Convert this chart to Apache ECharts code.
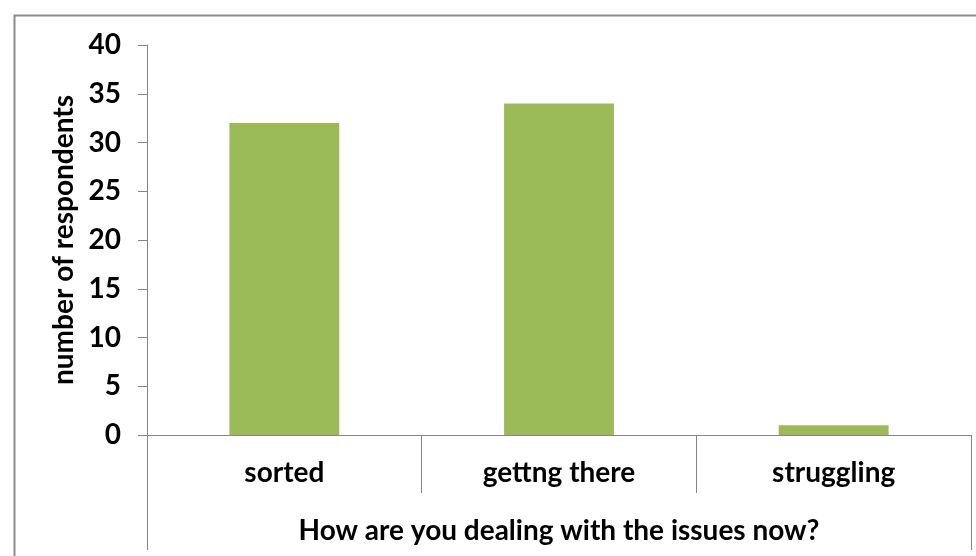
<!DOCTYPE html>
<html>
<head>
<meta charset="utf-8">
<script src="https://cdn.jsdelivr.net/npm/echarts@6/dist/echarts.min.js"></script>
<style>html,body{margin:0;padding:0;background:#fff}#c{width:976px;height:556px}</style>
</head>
<body>
<div id="c"></div>
<script>
const categories = ['sorted', 'gettng there', 'struggling'];
const respondents = [32, 34, 1];
const groupLabel = ['How are you dealing with the issues now?'];
const yAxisTitle = 'number of respondents';
const yMin = 0, yMax = 40, yStep = 5;

const FONT = 'Lato';
const FS = 28;
const AXIS = '#868686';
const chart = echarts.init(document.getElementById('c'), null, {renderer: 'canvas'});
chart.setOption({
  animation: false,
  backgroundColor: '#fff',
  grid: {left: 147, top: 45, right: 5, bottom: 121, containLabel: false},
  graphic: [{
    type: 'rect', left: 12, top: 13, z: -1,
    shape: {width: 1000, height: 600},
    style: {fill: 'none', stroke: '#8c8c8c', lineWidth: 2}
  }],
  xAxis: [{
    type: 'category', data: categories, position: 'bottom',
    axisLine: {show: true, lineStyle: {color: AXIS, width: 1}},
    axisTick: {show: true, interval: 0, alignWithLabel: false, length: 58, lineStyle: {color: AXIS}},
    axisLabel: {margin: 24, color: '#000', fontFamily: FONT, fontWeight: 'bold', fontSize: FS},
    splitLine: {show: false}
  }, {
    type: 'category', data: groupLabel, position: 'bottom', offset: 58,
    axisLine: {show: false},
    axisTick: {show: true, interval: 0, length: 57, lineStyle: {color: AXIS}},
    axisLabel: {margin: 24, color: '#000', fontFamily: FONT, fontWeight: 'bold', fontSize: FS},
    splitLine: {show: false}
  }],
  yAxis: {
    type: 'value', min: yMin, max: yMax, interval: yStep,
    name: yAxisTitle, nameLocation: 'middle', nameGap: 64,
    nameTextStyle: {color: '#000', fontFamily: FONT, fontWeight: 'bold', fontSize: FS},
    axisLine: {show: true, lineStyle: {color: AXIS}},
    axisTick: {show: true, length: 9, lineStyle: {color: AXIS}},
    axisLabel: {margin: 26, color: '#000', fontFamily: FONT, fontWeight: 'bold', fontSize: FS},
    splitLine: {show: false}
  },
  series: [{
    type: 'bar', data: respondents, xAxisIndex: 0,
    barCategoryGap: '60%',
    itemStyle: {color: '#9BBB59'}
  }]
});
</script>
</body>
</html>
